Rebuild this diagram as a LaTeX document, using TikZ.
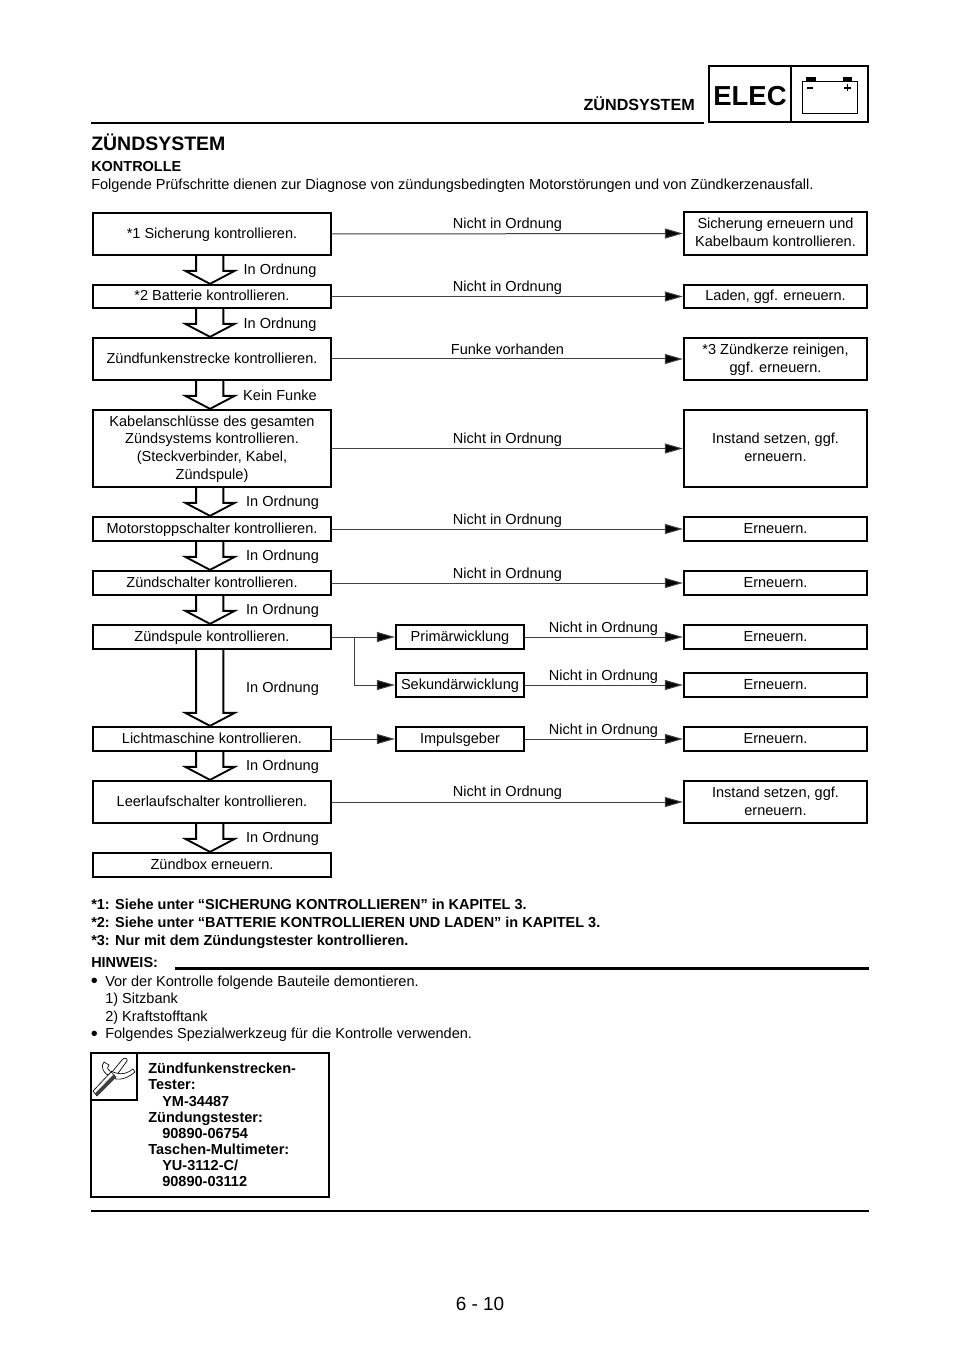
\documentclass[tikz,border=0pt]{standalone}
\usepackage{fontspec}
\setmainfont{Liberation Sans}
\usetikzlibrary{calc,arrows.meta}
\tikzset{
  px/.style={x=0.75pt,y=-0.75pt},
  fbox/.style={draw=black,line width=1.7pt,fill=white,inner sep=0pt,align=center,text depth=1.4pt,font=\fontsize{10.9}{13.3}\selectfont},
  flab/.style={inner sep=0pt,text depth=1.4pt,font=\fontsize{10.9}{13}\selectfont},
  txt/.style={inner sep=0pt,anchor=base west,font=\fontsize{10.9}{13}\selectfont},
  btxt/.style={inner sep=0pt,anchor=base west,font=\fontsize{10.85}{13}\selectfont\bfseries},
  conn/.style={draw=black!75,line width=0.75pt,-{Triangle[length=13.5pt,width=7.5pt,fill=black]}},
  hollow/.style={draw=black,line width=1.4pt,fill=white,line join=miter},
  rule/.style={draw=black,line width=1.8pt},
}
\newcommand{\bx}[6]{\node[fbox,minimum width=#4*0.75pt-#2*0.75pt,minimum height=#5*0.75pt-#3*0.75pt] (#1) at ({(#2+#4)/2},{(#3+#5)/2}) {#6};}
\newcommand{\holl}[2]{\path let \p1=(#1.south), \p2=(#2.north) in
  [hollow] (\x1-11.9pt,\y1) -- (\x1-11.9pt,\y2+9.75pt) -- (\x1-20pt,\y2+9.75pt) -- (\x1-1.5pt,\y2) -- (\x1+17pt,\y2+9.75pt) -- (\x1+8.5pt,\y2+9.75pt) -- (\x1+8.5pt,\y1);}
\begin{document}
\begin{tikzpicture}[px]
\useasboundingbox[fill=white] (0,0) rectangle (960,1358);
% header
\node[inner sep=0pt,anchor=base east,font=\fontsize{12.1}{13}\selectfont\bfseries] (hd) at (695,111) {ZÜNDSYSTEM};
\coordinate (hl1) at (91,123); \coordinate (hl2) at (704,123);
\draw[rule] (hl1) -- (hl2);
\node[draw=black,line width=1.8pt,minimum width=61.5pt,minimum height=42pt,inner sep=0pt,text height=17pt,text depth=0pt,font=\fontsize{20.6}{21}\selectfont\bfseries] (elec) at (750,94) {ELEC};
\node[draw=black,line width=1.8pt,minimum width=57.75pt,minimum height=42pt,inner sep=0pt] (batt) at (829.5,94) {};
\draw[black,line width=0.5pt] (802,81) rectangle (857,113);
\fill[black] (806,77) rectangle (816,81);
\fill[black] (843,77) rectangle (852,81);
\draw[black,line width=1pt] (807,88) -- (813,88);
\draw[black,line width=1pt] (844,88) -- (851,88) (847.5,84.5) -- (847.5,91.5);
% title
\node[btxt,font=\fontsize{14.6}{16}\selectfont\bfseries] (ti) at (91,151) {ZÜNDSYSTEM};
\node[btxt] (ko) at (91,172) {KONTROLLE};
\node[txt] (fo) at (91,190) {Folgende Prüfschritte dienen zur Diagnose von zündungsbedingten Motorstörungen und von Zündkerzenausfall.};
% left boxes
\bx{a1}{93}{213}{331}{255}{*1 Sicherung kontrollieren.}
\bx{a2}{93}{285}{331}{308}{*2 Batterie kontrollieren.}
\bx{a3}{93}{338}{331}{380}{Zündfunkenstrecke kontrollieren.}
\bx{a4}{93}{410}{331}{487}{Kabelanschlüsse des gesamten\\Zündsystems kontrollieren.\\(Steckverbinder, Kabel,\\Zündspule)}
\bx{a5}{93}{517}{331}{541}{Motorstoppschalter kontrollieren.}
\bx{a6}{93}{571}{331}{595}{Zündschalter kontrollieren.}
\bx{a7}{93}{625}{331}{649}{Zündspule kontrollieren.}
\bx{a8}{93}{727}{331}{751}{Lichtmaschine kontrollieren.}
\bx{a9}{93}{781}{331}{823}{Leerlaufschalter kontrollieren.}
\bx{a10}{93}{853}{331}{877}{Zündbox erneuern.}
% right boxes
\bx{b1}{684}{212}{867}{255}{Sicherung erneuern und\\Kabelbaum kontrollieren.}
\bx{b2}{684}{285}{867}{308}{Laden, ggf. erneuern.}
\bx{b3}{684}{338}{867}{380}{*3 Zündkerze reinigen,\\ggf. erneuern.}
\bx{b4}{684}{410}{867}{487}{Instand setzen, ggf.\\erneuern.}
\bx{b5}{684}{517}{867}{541}{Erneuern.}
\bx{b6}{684}{571}{867}{595}{Erneuern.}
\bx{b7}{684}{625}{867}{649}{Erneuern.}
\bx{b7b}{684}{673}{867}{697}{Erneuern.}
\bx{b8}{684}{727}{867}{751}{Erneuern.}
\bx{b9}{684}{781}{867}{823}{Instand setzen, ggf.\\erneuern.}
% mid boxes
\bx{m1}{396}{625}{524}{649}{Primärwicklung}
\bx{m2}{396}{673}{524}{697}{Sekundärwicklung}
\bx{m3}{396}{727}{524}{751}{Impulsgeber}
% connectors
\foreach \i in {1,2,3,4,5,6,9}{\draw[conn] (a\i.east) -- (b\i.west);}
\draw[conn] (a7.east) -- (m1.west);
\coordinate (br) at (354,637);
\draw[conn] (br) |- (m2.west);
\draw[conn] (a8.east) -- (m3.west);
\draw[conn] (m1.east) -- (b7.west);
\draw[conn] (m2.east) -- (b7b.west);
\draw[conn] (m3.east) -- (b8.west);
% hollow arrows
\holl{a1}{a2}\holl{a2}{a3}\holl{a3}{a4}\holl{a4}{a5}\holl{a5}{a6}\holl{a6}{a7}\holl{a7}{a8}\holl{a8}{a9}\holl{a9}{a10}
% labels
\foreach \n/\x/\y/\t in {l1/507.5/224/Nicht in Ordnung,l2/507.5/287/Nicht in Ordnung,l3/507.5/350/Funke vorhanden,l4/507.5/439/Nicht in Ordnung,l5/507.5/520/Nicht in Ordnung,l6/507.5/574/Nicht in Ordnung,l7/603.5/628/Nicht in Ordnung,l7b/603.5/676/Nicht in Ordnung,l8/603.5/730/Nicht in Ordnung,l9/507.5/792/Nicht in Ordnung,o1/280/270/In Ordnung,o2/280/324/In Ordnung,o3/280/396/Kein Funke,o4/282.5/502/In Ordnung,o5/282.5/556/In Ordnung,o6/282.5/610/In Ordnung,o7/282.5/688/In Ordnung,o8/282.5/766/In Ordnung,o9/282.5/838/In Ordnung}
  {\node[flab] (\n) at (\x,\y) {\t};}
% footnotes
\node[btxt] (f1) at (91,909) {*1: Siehe unter “SICHERUNG KONTROLLIEREN” in KAPITEL 3.};
\node[btxt] (f2) at (91,927) {*2: Siehe unter “BATTERIE KONTROLLIEREN UND LADEN” in KAPITEL 3.};
\node[btxt] (f3) at (91,945) {*3: Nur mit dem Zündungstester kontrollieren.};
\node[btxt] (hw) at (91,967) {HINWEIS:};
\coordinate (r1) at (175,968.5); \coordinate (r2) at (869,968.5);
\draw[rule] (r1) -- (r2);
\node[txt,font=\fontsize{15}{13}\selectfont] (n0) at (90.5,987.5) {•};
\node[txt] (n1) at (105,986) {Vor der Kontrolle folgende Bauteile demontieren.};
\node[txt] (n2) at (105,1003.5) {1) Sitzbank};
\node[txt] (n3) at (105,1021) {2) Kraftstofftank};
\node[txt,font=\fontsize{15}{13}\selectfont] (n4) at (90.5,1040) {•};
\node[txt] (n5) at (105,1038.5) {Folgendes Spezialwerkzeug für die Kontrolle verwenden.};
% tool box
\node[draw=black,line width=1.9pt,minimum width=178.5pt,minimum height=108pt,inner sep=0pt] (tb) at (210,1125) {};
\node[draw=black,line width=1.9pt,minimum width=34.5pt,minimum height=35.25pt,inner sep=0pt,anchor=north west] (ic) at (tb.north west) {};
% icon: screwdriver and spanner
\draw[black,line width=0.5pt,fill=white] (112,1072) -- (122,1060) .. controls (124,1057) and (128,1058) .. (127,1061) -- (116,1076) -- cycle;
\draw[black,line width=0.5pt,fill=white] (104,1062) .. controls (100,1066) and (103,1074) .. (112,1077) -- (116,1079) .. controls (124,1080) and (130,1076) .. (135,1072) -- (133,1069) .. controls (128,1073) and (122,1075) .. (116,1073) -- (110,1071) .. controls (107,1069) and (107,1067) .. (109,1065) -- cycle;
\draw[black,line width=0.5pt,fill=white] (93,1091) -- (111,1072) -- (116,1077) -- (97,1096) -- cycle;
\fill[black!75] (95,1093.5) -- (113.5,1074.5) -- (116,1077) -- (97,1096) -- cycle;
\node[btxt,align=left,font=\fontsize{10.9}{12.1}\selectfont\bfseries,anchor=north west] (tt) at (148,1063) {Zündfunkenstrecken-\\Tester:\\\hspace*{10.5pt}YM-34487\\Zündungstester:\\\hspace*{10.5pt}90890-06754\\Taschen-Multimeter:\\\hspace*{10.5pt}YU-3112-C/\\\hspace*{10.5pt}90890-03112};
\coordinate (e1) at (91,1211); \coordinate (e2) at (869,1211);
\draw[rule] (e1) -- (e2);
\node[inner sep=0pt,font=\fontsize{14.2}{16}\selectfont] (pg) at (480,1304) {6 - 10};
\end{tikzpicture}
\end{document}
